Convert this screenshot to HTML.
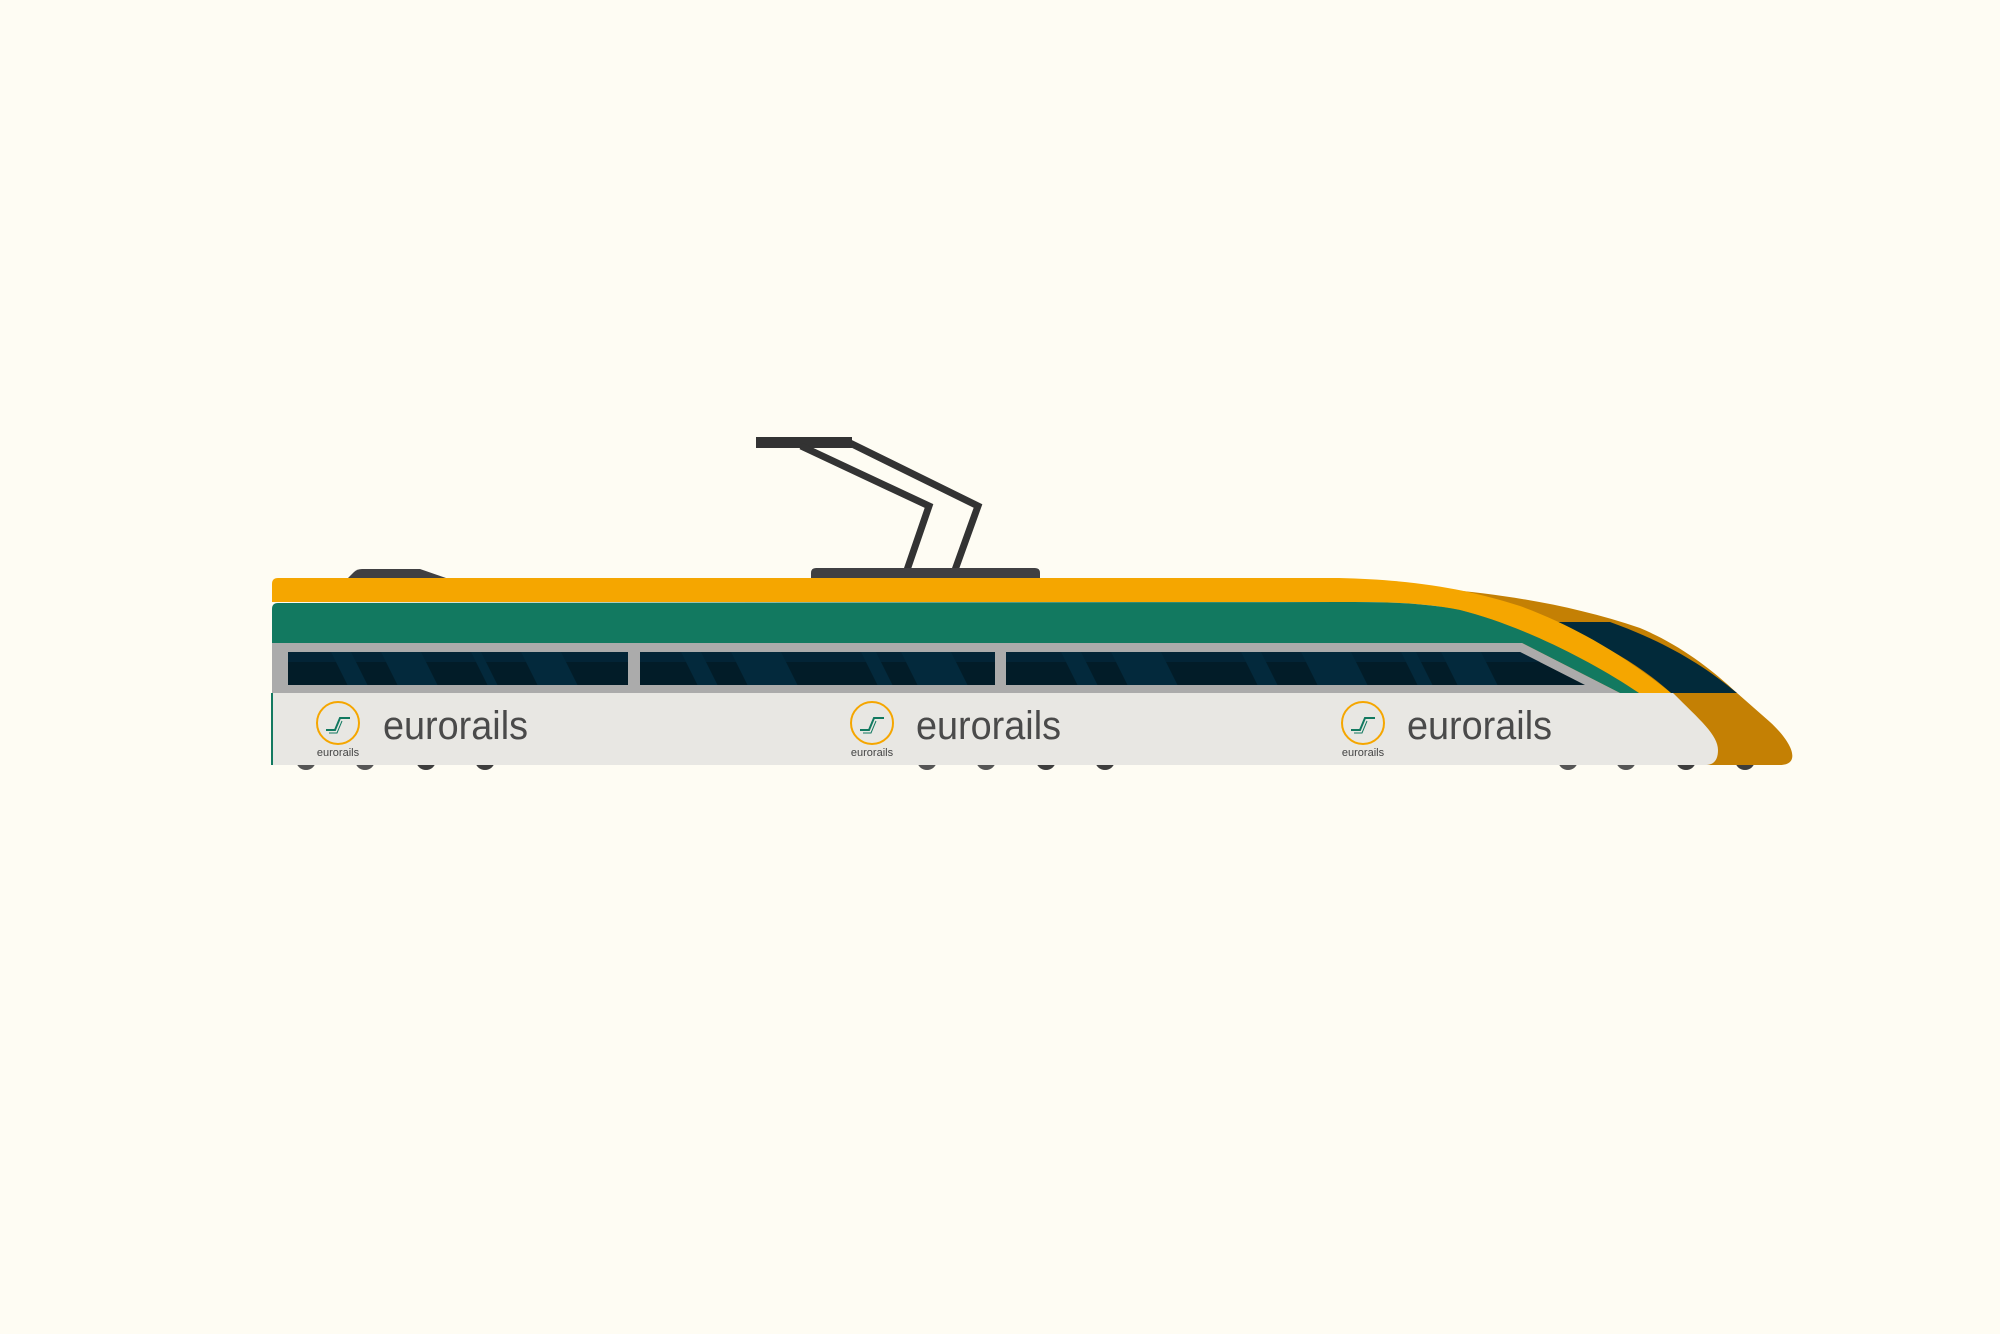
<!DOCTYPE html>
<html><head><meta charset="utf-8"><style>
html,body{margin:0;padding:0;background:#FEFCF3;}
svg{display:block}
text{font-family:"Liberation Sans",sans-serif}
</style></head><body>
<svg width="2000" height="1334" viewBox="0 0 2000 1334" xmlns="http://www.w3.org/2000/svg">
<rect width="2000" height="1334" fill="#FEFCF3"/>
<!-- pantograph -->
<rect x="756" y="437" width="96" height="11" fill="#333"/>
<polyline points="801,446 929,506 907,570" fill="none" stroke="#333" stroke-width="7"/>
<polyline points="850,443 978,506 955,570" fill="none" stroke="#333" stroke-width="7"/>
<path d="M811,578 L811,573 Q811,568 816,568 L1035,568 Q1040,568 1040,573 L1040,578 Z" fill="#404042"/>
<path d="M348,578 L354,572 Q357,569 362,569 L420,569 L446,578 Z" fill="#404042"/>
<!-- wheels -->
<g fill="#555">
<circle cx="306" cy="760" r="10"/><circle cx="365" cy="760" r="10"/><circle cx="426" cy="760" r="10" fill="#3d3d3d"/><circle cx="485" cy="760" r="10" fill="#3d3d3d"/>
<circle cx="927" cy="760" r="10"/><circle cx="986" cy="760" r="10"/><circle cx="1046" cy="760" r="10" fill="#3d3d3d"/><circle cx="1105" cy="760" r="10" fill="#3d3d3d"/>
<circle cx="1568" cy="760" r="10"/><circle cx="1626" cy="760" r="10"/><circle cx="1686" cy="760" r="10" fill="#3d3d3d"/><circle cx="1745" cy="760" r="10" fill="#3d3d3d"/>
</g>
<!-- gold nose -->
<path d="M1441,589 C1510,595 1575,606 1640,628 C1680,645 1710,668 1737,693 L1770,722 C1795,745 1800,765 1780,765 L1440,765 L1440,620 Z" fill="#C48004"/>
<!-- navy windshield -->
<path d="M1552,622 L1610,622 C1660,640 1700,662 1737,693 L1671,693 C1640,665 1600,642 1552,622 Z" fill="#022A3A"/>
<!-- orange band -->
<path d="M278,578 L1339,578 C1420,580 1470,590 1520,606 C1580,628 1630,660 1671,693 L1639,693 C1590,660 1520,625 1460,610 C1420,602 1380,602 1339,602 L272,602 L272,584 Q272,578 278,578 Z" fill="#F5A600"/>
<!-- green band -->
<path d="M278,603 L1339,602 C1380,602 1420,602 1460,610 C1520,625 1590,660 1639,693 L1620,693 L1522,643 L272,643 L272,609 Q272,603 278,603 Z" fill="#127960"/>
<!-- grey -->
<path d="M272,643 L1522,643 L1620,693 L272,693 Z" fill="#ABABAB"/>
<!-- windows -->
<defs>
<clipPath id="w"><rect x="288" y="652" width="340" height="33"/><rect x="640" y="652" width="355" height="33"/><path d="M1006,652 L1520,652 L1585,685 L1006,685 Z"/></clipPath>
</defs>
<g clip-path="url(#w)">
<rect x="280" y="650" width="1320" height="40" fill="#021C28"/>
<rect x="280" y="650" width="1320" height="12" fill="#032436"/>
<g fill="#03293C">
<path d="M330,650 L350,650 L370,690 L350,690Z"/><path d="M380,650 L420,650 L440,690 L400,690Z"/><path d="M470,650 L480,650 L500,690 L490,690Z"/><path d="M520,650 L560,650 L580,690 L540,690Z"/>
<path d="M680,650 L700,650 L720,690 L700,690Z"/><path d="M730,650 L780,650 L800,690 L750,690Z"/><path d="M860,650 L875,650 L895,690 L880,690Z"/><path d="M900,650 L950,650 L970,690 L920,690Z"/>
<path d="M1060,650 L1080,650 L1100,690 L1080,690Z"/><path d="M1110,650 L1160,650 L1180,690 L1130,690Z"/><path d="M1240,650 L1260,650 L1280,690 L1260,690Z"/><path d="M1300,650 L1350,650 L1370,690 L1320,690Z"/><path d="M1400,650 L1415,650 L1435,690 L1420,690Z"/><path d="M1440,650 L1480,650 L1500,690 L1460,690Z"/>
</g>
</g>
<!-- white body -->
<path d="M272,693 L1673,693 C1700,720 1718,735 1718,750 C1718,760 1714,765 1705,765 L272,765 Z" fill="#E8E7E3"/>
<rect x="271" y="693" width="2" height="72" fill="#127960"/>
<!-- logos -->
<g id="logo">
<circle cx="338" cy="723" r="21" fill="none" stroke="#F5A600" stroke-width="2"/>
<path d="M326,730 L335,730 L340,718 L350,718" fill="none" stroke="#127960" stroke-width="2"/>
<path d="M329,733 L337,733 L342,721" fill="none" stroke="#127960" stroke-width="1"/>
<text x="338" y="756" font-size="11" text-anchor="middle" fill="#444">eurorails</text>
</g>
<use href="#logo" x="534"/>
<use href="#logo" x="1025"/>
<g font-size="40" fill="#4A4A4A">
<text x="383" y="739" textLength="145" lengthAdjust="spacingAndGlyphs">eurorails</text>
<text x="916" y="739" textLength="145" lengthAdjust="spacingAndGlyphs">eurorails</text>
<text x="1407" y="739" textLength="145" lengthAdjust="spacingAndGlyphs">eurorails</text>
</g>
</svg>
</body></html>
